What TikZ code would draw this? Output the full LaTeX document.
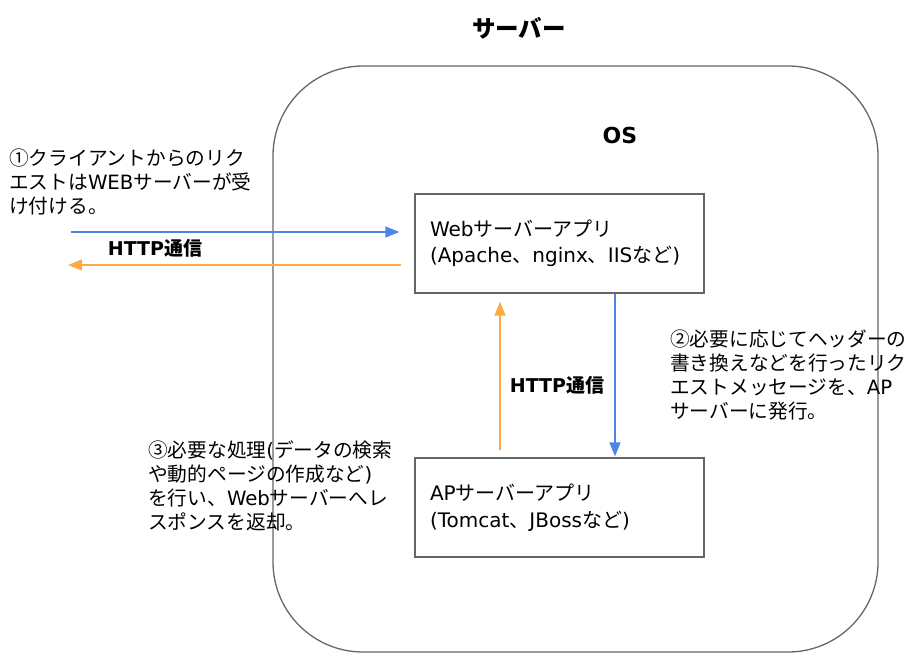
\documentclass[tikz,border=0pt]{standalone}
\usepackage{fontspec}
\setmainfont{Noto Sans CJK JP}
\newfontfamily\lat{DejaVu Sans}
\usetikzlibrary{arrows.meta}
\definecolor{blueA}{HTML}{4A86E8}
\definecolor{orangeA}{HTML}{FFAA44}
\definecolor{frameC}{HTML}{666666}
\begin{document}
\begin{tikzpicture}[x=1pt,y=-1pt,
  boxst/.style={draw=frameC, line width=1.3pt, minimum width=289pt, minimum height=99pt,
    text width=259pt, inner xsep=15pt, align=left,
    font=\fontsize{20}{26.5}\selectfont},
  note/.style={anchor=north west, inner sep=0pt, align=left,
    font=\fontsize{19.7}{24}\selectfont},
  lbl/.style={font=\bfseries\fontsize{19}{22}\selectfont},
  arr/.style={line width=1.3pt, -{Triangle[length=14pt,width=11pt]}}]
\useasboundingbox (0,0) rectangle (920,667);
\node[font=\bfseries\fontsize{23.5}{28}\selectfont] (title) at (519,28) {サーバー};
\node[draw=frameC, line width=1.3pt, rounded corners=90pt, minimum width=605pt, minimum height=586pt] (os) at (575.5,359) {};
\node[font=\bfseries\fontsize{22}{26}\selectfont] (oslbl) at (620,135) {{\lat OS}};
\node[boxst] (web) at (559.5,243.5) {{\lat Web}サーバーアプリ\\{\lat (Apache}、{\lat nginx}、{\lat IIS}など{\lat )}};
\node[boxst] (ap) at (559.5,507.5) {{\lat AP}サーバーアプリ\\{\lat (Tomcat}、{\lat JBoss}など{\lat )}};
\coordinate (cin) at (71,232);
\coordinate (cout) at (68,265);
\draw[arr, blueA, shorten >=15pt] (cin) -- (cin -| web.west);
\draw[arr, orangeA, shorten <=13pt] (cout -| web.west) -- (cout);
\node[lbl] (http1) at (155,248) {{\lat HTTP}通信};
\coordinate (xo) at (500,0);
\coordinate (xb) at (615,0);
\draw[arr, orangeA, shorten <=7pt, shorten >=8pt] (xo |- ap.north) -- (xo |- web.south);
\draw[arr, blueA, shorten >=1pt] (xb |- web.south) -- (xb |- ap.north);
\node[lbl] (http2) at (557,385) {{\lat HTTP}通信};
\node[note] (t1) at (9,148.5) {①クライアントからのリク\\エストは{\lat WEB}サーバーが受\\け付ける。};
\node[note] (t2) at (670,330) {②必要に応じてヘッダーの\\書き換えなどを行ったリク\\エストメッセージを、{\lat AP}\\サーバーに発行。};
\node[note] (t3) at (148,440.5) {③必要な処理{\lat (}データの検索\\や動的ページの作成など{\lat )}\\を行い、{\lat Web}サーバーへレ\\スポンスを返却。};
\end{tikzpicture}
\end{document}
